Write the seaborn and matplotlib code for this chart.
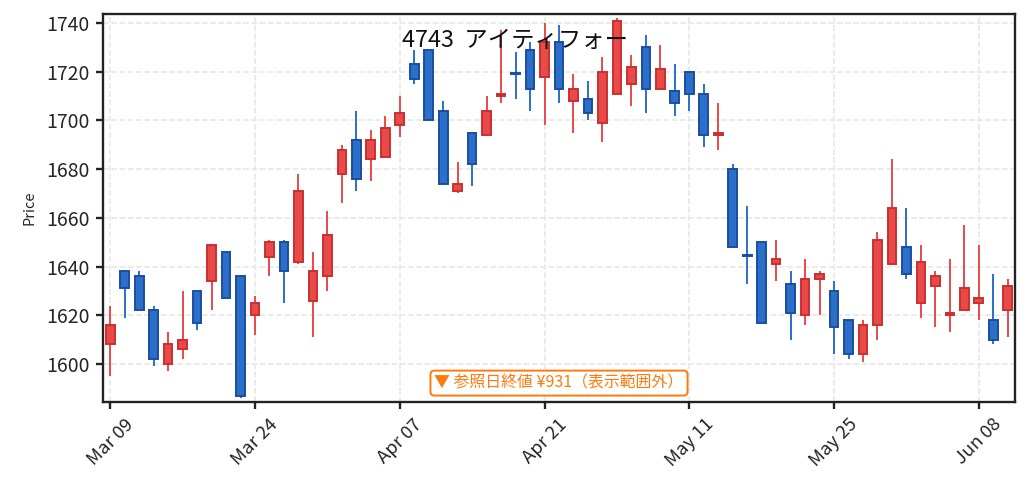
import numpy as np
import pandas as pd
import matplotlib
matplotlib.use("Agg")
import matplotlib.pyplot as plt
import seaborn as sns

# ---- data ----
holidays = ["2026-03-20", "2026-04-29", "2026-05-04", "2026-05-05", "2026-05-06"]
dates = [d for d in pd.bdate_range("2026-03-09", "2026-06-10") if d.strftime("%Y-%m-%d") not in holidays]

opens = [1608, 1638, 1636, 1622, 1600, 1606, 1630, 1634, 1646, 1636,
         1620, 1644, 1650, 1642, 1626, 1636, 1678, 1692, 1684, 1685,
         1698, 1723, 1729, 1704, 1671, 1695, 1694, 1710, 1719.5, 1729,
         1718, 1732, 1708, 1709, 1699, 1711, 1715, 1730, 1713, 1712,
         1720, 1711, 1694, 1680, 1644.7, 1650, 1641, 1633, 1620, 1635,
         1630, 1618, 1604, 1616, 1641, 1648, 1625, 1632, 1620, 1622,
         1625, 1618, 1622]
highs = [1624, 1638, 1638, 1624, 1613, 1630, 1630, 1649, 1646, 1636,
         1628, 1651, 1651, 1678, 1646, 1663, 1690, 1704, 1696, 1702,
         1710, 1729, 1729, 1708, 1683, 1695, 1710, 1737, 1728, 1732,
         1740, 1739, 1719, 1716, 1726, 1742, 1727, 1735, 1731, 1723,
         1720, 1715, 1707, 1682, 1665, 1650, 1651, 1638, 1643, 1638,
         1634, 1618, 1618, 1654, 1684, 1664, 1649, 1638, 1643, 1657,
         1649, 1637, 1635]
lows = [1595, 1619, 1622, 1599, 1597, 1602, 1614, 1622, 1627, 1586,
        1612, 1636, 1625, 1641, 1611, 1630, 1666, 1671, 1675, 1685,
        1693, 1715, 1700, 1674, 1670, 1673, 1694, 1707, 1709, 1704,
        1698, 1707, 1695, 1700, 1691, 1711, 1706, 1703, 1713, 1702,
        1704, 1689, 1688, 1648, 1633, 1617, 1634, 1610, 1616, 1620,
        1604, 1602, 1601, 1610, 1641, 1635, 1619, 1615, 1613, 1622,
        1618, 1608, 1611]
closes = [1616, 1631, 1622, 1602, 1608, 1610, 1617, 1649, 1627, 1587,
          1625, 1650, 1638, 1671, 1638, 1653, 1688, 1676, 1692, 1697,
          1703, 1717, 1700, 1674, 1674, 1682, 1704, 1711, 1719, 1713,
          1732, 1713, 1713, 1703, 1720, 1741, 1722, 1713, 1721, 1707,
          1711, 1694, 1695, 1648, 1644.3, 1617, 1643, 1621, 1635, 1637,
          1615, 1604, 1616, 1651, 1664, 1637, 1642, 1636, 1621, 1631,
          1627, 1610, 1632]

title_text = "4743  アイティフォー"
note_text = "▼ 参照日終値 ¥931（表示範囲外）"
tick_step = 10

# ---- style ----
sns.set_theme(style="ticks")
plt.rcParams["font.family"] = ["Noto Sans CJK JP", "DejaVu Sans"]

UP_FACE, UP_EDGE = "#e84a4a", "#cc2f2f"
DN_FACE, DN_EDGE = "#2b6fc8", "#1a4ea3"

df = pd.DataFrame({"date": dates, "open": opens, "high": highs, "low": lows, "close": closes})
df["x"] = np.arange(len(df))
df["up"] = df["close"] >= df["open"]
df["bottom"] = df[["open", "close"]].min(axis=1)
df["height"] = (df["close"] - df["open"]).abs().clip(lower=0.6)

fig = plt.figure(figsize=(1029 / 140, 491 / 140), dpi=140)
ax = fig.add_axes([103 / 1029, 1 - 401.7 / 491, (1015 - 103) / 1029, (401.7 - 14) / 491])

for up, face, edge in [(True, UP_FACE, UP_EDGE), (False, DN_FACE, DN_EDGE)]:
    d = df[df["up"] == up]
    ax.vlines(d["x"], d["low"], d["high"], color=face, linewidth=1.0, zorder=2)
    ax.bar(d["x"], d["height"], bottom=d["bottom"], width=0.6, color=face,
           edgecolor=edge, linewidth=1.0, zorder=3)

ax.set_xlim(-0.5, len(df) - 0.5)
ax.set_ylim(1584.5, 1743.7)
ticks = list(range(0, len(df), tick_step))
ax.set_xticks(ticks)
ax.set_xticklabels([df["date"][i].strftime("%b %d") for i in ticks], rotation=45,
                   ha="center", fontsize=9.5)
ax.set_yticks(np.arange(1600, 1741, 20))
ax.tick_params(axis="y", labelsize=10)
ax.tick_params(axis="both", length=3.5, width=1.2, color="#222222")
ax.grid(True, linestyle="--", color="#e6e6e6", linewidth=0.8, zorder=0)
ax.set_axisbelow(True)
for s in ax.spines.values():
    s.set_visible(True)
    s.set_color("#222222")
    s.set_linewidth(1.2)
ax.set_ylabel("Price", fontsize=7.5, labelpad=5)
ax.set_xlabel("")

fig.text(0.5, 1 - 40 / 491, title_text, ha="center", va="center", fontsize=12, color="#111111")
ax.text(0.5, 0.048, note_text, transform=ax.transAxes, ha="center", va="center",
        fontsize=8.2, color="#ff7a0e",
        bbox=dict(boxstyle="round,pad=0.25", facecolor="white", edgecolor="#ff7a0e", linewidth=1.0))

fig.savefig("out.png", dpi=140)
